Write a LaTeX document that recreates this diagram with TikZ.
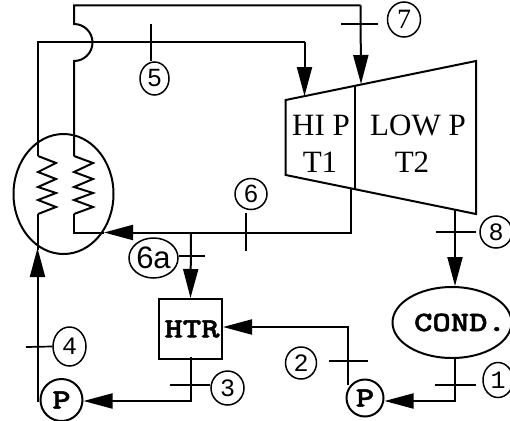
\documentclass[tikz,border=0pt]{standalone}
\usepackage{fontspec}
\setmainfont{Liberation Serif}
\setsansfont{Liberation Sans}
\setmonofont{Liberation Mono}
\newfontfamily\unitfont[FakeStretch=1.25,FakeBold=1.6]{lmmonolt10-bold.otf}
\usetikzlibrary{arrows.meta,shapes.geometric}
\tikzset{
pipe/.style={line width=2pt},
flow/.style={pipe,-{Triangle[length=29pt,width=15pt]}},
tick/.style={line width=1.7pt},
statelabel/.style={draw,ellipse,line width=1.5pt,inner sep=0pt,font=\fontsize{25}{25}\sffamily},
monolabel/.style={statelabel,font=\fontsize{25}{25}\ttfamily},
pumpbox/.style={draw,circle,line width=2pt,inner sep=0pt,font=\fontsize{28}{28}\unitfont},
turbtext/.style={font=\fontsize{31}{31}\selectfont},
}
\begin{document}
\begin{tikzpicture}[x=1pt,y=-1pt]
\useasboundingbox (0,0) rectangle (510,420);
\node[draw,ellipse,pipe,minimum width=100pt,minimum height=120pt] (boiler) at (63.5,194) {};
\node[draw,rectangle,pipe,minimum width=63pt,minimum height=60pt,inner sep=0pt,font=\fontsize{28}{28}\unitfont] (htr) at (190.5,329) {\makebox[0pt]{\hspace{3pt}HTR}};
\node[draw,ellipse,pipe,minimum width=119pt,minimum height=71pt,inner sep=0pt,font=\fontsize{28}{28}\unitfont] (cond) at (452,322.5) {\makebox[0pt]{\hspace{16pt}COND.}};
\node[pumpbox,minimum size=42pt] (pumpa) at (61.5,400) {\raisebox{-3pt}{P}};
\node[pumpbox,minimum size=37pt] (pumpb) at (365,398) {\raisebox{-3pt}{P}};
\draw[pipe] (285.7,100) -- (476,61) -- (476,214) -- (285.7,175) -- cycle;
\draw[pipe] (355,85) -- (355,189);
\node[turbtext] (hip) at (321,125) {HI P};
\node[turbtext] (tone) at (320,162) {T1};
\node[turbtext] (lowp) at (418,125) {LOW P};
\node[turbtext] (ttwo) at (412,162) {T2};
\coordinate (hiptop) at (304.5,96);
\coordinate (lowtop) at (361,84);
\coordinate (outhi) at (350.7,189);
\coordinate (outlow) at (455,209);
\draw[flow] (outlow) -- (cond.north -| outlow);
\draw[flow] (cond.south -| 455,0) -- (455,401) -- (pumpb.east |- 455,401);
\draw[flow] (348,385) -- (348,327) -- (htr.east |- 0,327);
\draw[flow] (191,232) -- (htr.north);
\draw[flow] (191,357) -- (191,401) -- (pumpa.east |- 0,401);
\draw[flow] (37.5,402) -- (37.5,248);
\draw[flow] (outhi) -- (350.7,232.5) -- (104,232.5);
\draw[pipe] (104,232.5) -- (74,232.5) -- (74,214);
% coils
\foreach \xa/\xb in {38/56,74/93}
  \draw[pipe] (\xa,156) -- (\xb,163) -- (\xa,172) -- (\xb,179) -- (\xa,187)
    -- (\xb,193) -- (\xa,200) -- (\xb,207) -- (\xa,214);
\draw[pipe] (38,214) -- (38,250);
\draw[pipe] (74,156) -- (74,61) arc (90:-90:18.5) -- (74,5.5) -- (360.5,5.5);
\draw[flow] (360.5,5.5) -- (lowtop);
\draw[pipe] (38,156) -- (38,42.5) -- (304.5,42.5);
\draw[flow] (304.5,42.5) -- (hiptop);
% ticks
\node[statelabel,minimum width=29pt,minimum height=33pt] (lfive) at (154.5,78.5) {5};
\draw[tick] (151,24) -- (lfive.north -| 151,0);
\node[statelabel,minimum width=33pt,minimum height=35pt,font=\fontsize{28}{28}\selectfont] (lseven) at (404,19.5) {7};
\draw[tick] (341,24) -- (378,24);
\node[statelabel,minimum width=32pt,minimum height=31pt] (lsix) at (251,194) {6};
\draw[tick] (246,213) -- (246,251);
\node[statelabel,minimum width=49pt,minimum height=40pt,font=\fontsize{31}{31}\sffamily] (lsixa) at (153.5,258) {6a};
\draw[tick] (lsixa.east |- 0,256) -- (205,256);
\node[monolabel,minimum width=33pt,minimum height=34pt] (lthree) at (227.5,388) {3};
\draw[tick] (170,385) -- (lthree.west |- 0,385);
\node[monolabel,minimum width=33pt,minimum height=39pt] (lfour) at (69.5,346.5) {4};
\draw[tick] (26,347) -- (lfour.west);
\node[monolabel,minimum width=31pt,minimum height=32pt] (ltwo) at (301,363) {2};
\draw[tick] (329,361) -- (368,361);
\node[monolabel,minimum width=30pt,minimum height=35pt] (lone) at (498,380) {1};
\draw[tick] (435,385) -- (476,385);
\node[monolabel,minimum width=32pt,minimum height=32pt] (leight) at (496,232) {8};
\draw[tick] (436,232) -- (476,232);
\end{tikzpicture}
\end{document}
